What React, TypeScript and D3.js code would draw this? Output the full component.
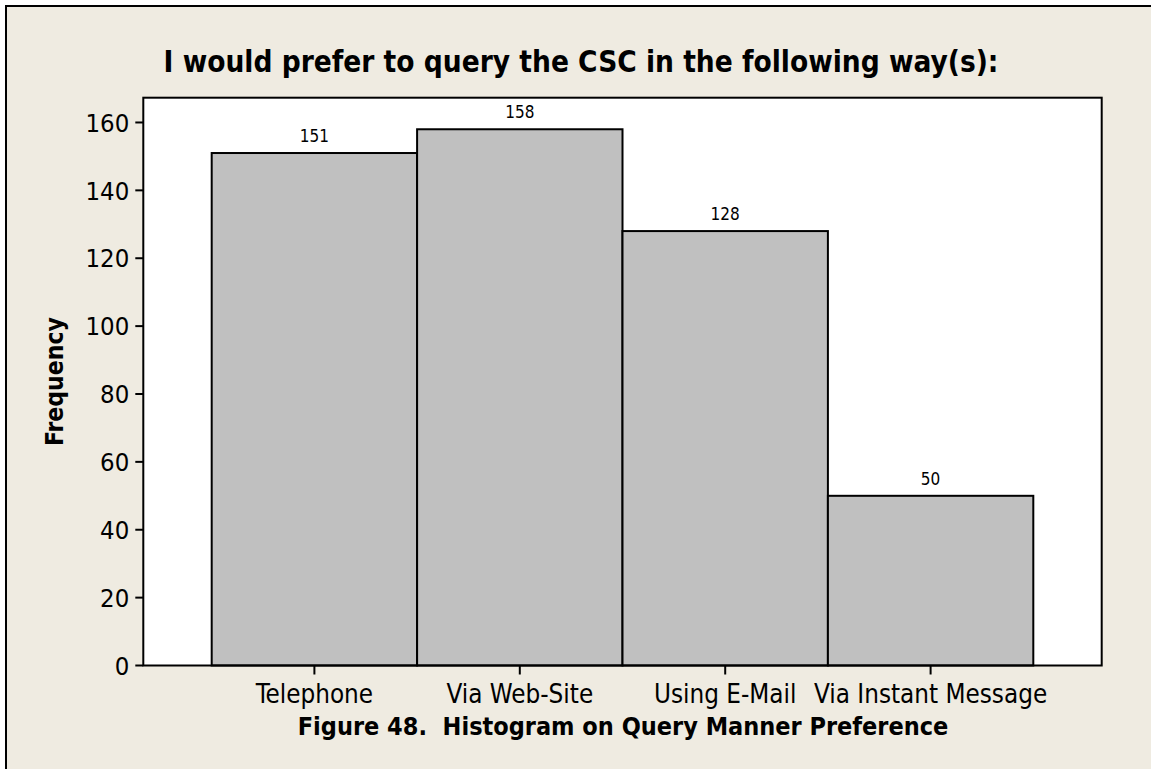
import React from "react";
import * as d3 from "d3";

const categories: string[] = ["Telephone", "Via Web-Site", "Using E-Mail", "Via Instant Message"];
const frequencies: number[] = [151, 158, 128, 50];
const yTicks: number[] = [0, 20, 40, 60, 80, 100, 120, 140, 160];

const titleText = "I would prefer to query the CSC in the following way(s):";
const captionText = "Figure 48.  Histogram on Query Manner Preference";
const yLabel = "Frequency";

const W = 1151;
const H = 769;
const plot = { left: 143.3, right: 1101.7, top: 97.7, bottom: 665.5 };
const FONT = "'DejaVu Sans Condensed', 'DejaVu Sans', sans-serif";
const BG = "#EFEBE1";

export default function App() {
  const x = d3
    .scaleBand<string>()
    .domain(categories)
    .range([plot.left, plot.right])
    .paddingInner(0)
    .paddingOuter(0.333);
  const y = d3.scaleLinear().domain([0, 167.3]).range([plot.bottom, plot.top]);
  const bw = x.bandwidth();

  return (
    <svg
      width={W}
      height={H}
      style={{ position: "absolute", left: 0, top: 0, display: "block" }}
      fontFamily={FONT}
    >
      <rect x={0} y={0} width={W} height={H} fill="#ffffff" />
      <rect x={6} y={6} width={W + 10} height={H + 10} fill={BG} stroke="#000" strokeWidth={2} />

      <text
        x={581}
        y={72}
        textAnchor="middle"
        fontSize={29.5}
        fontWeight="bold"
        fill="#000"
        style={{ fontStretch: "condensed" }}
      >
        {titleText}
      </text>

      {/* plot area */}
      <rect
        x={plot.left}
        y={plot.top}
        width={plot.right - plot.left}
        height={plot.bottom - plot.top}
        fill="#fff"
      />

      {categories.map((c, i) => (
        <rect
          key={c}
          x={x(c)}
          y={y(frequencies[i])}
          width={bw}
          height={y(0) - y(frequencies[i])}
          fill="#C0C0C0"
          stroke="#000"
          strokeWidth={2}
        />
      ))}

      {categories.map((c, i) => (
        <text
          key={"v" + c}
          x={(x(c) as number) + bw / 2}
          y={y(frequencies[i]) - 11}
          textAnchor="middle"
          fontSize={17}
          fill="#000"
          style={{ fontStretch: "condensed" }}
        >
          {frequencies[i]}
        </text>
      ))}

      <rect
        x={plot.left}
        y={plot.top}
        width={plot.right - plot.left}
        height={plot.bottom - plot.top}
        fill="none"
        stroke="#000"
        strokeWidth={2}
      />

      {/* y axis ticks */}
      {yTicks.map((t) => (
        <g key={"yt" + t}>
          <line x1={plot.left - 8} x2={plot.left} y1={y(t)} y2={y(t)} stroke="#000" strokeWidth={2} />
          <text
            x={plot.left - 14}
            y={y(t)}
            dy="0.36em"
            textAnchor="end"
            fontSize={25.5}
            fill="#000"
            style={{ fontStretch: "condensed" }}
          >
            {t}
          </text>
        </g>
      ))}

      {/* x axis ticks */}
      {categories.map((c) => {
        const cx = (x(c) as number) + bw / 2;
        return (
          <g key={"xt" + c}>
            <line x1={cx} x2={cx} y1={plot.bottom} y2={plot.bottom + 9} stroke="#000" strokeWidth={2} />
            <text
              x={cx}
              y={702.7}
              textAnchor="middle"
              fontSize={25.8}
              fill="#000"
              style={{ fontStretch: "condensed" }}
            >
              {c}
            </text>
          </g>
        );
      })}

      <text
        transform={`translate(63.3, ${(plot.top + plot.bottom) / 2}) rotate(-90)`}
        textAnchor="middle"
        fontSize={24.5}
        fontWeight="bold"
        fill="#000"
        style={{ fontStretch: "condensed" }}
      >
        {yLabel}
      </text>

      <text
        x={623}
        y={735}
        textAnchor="middle"
        fontSize={25}
        fontWeight="bold"
        fill="#000"
        style={{ fontStretch: "condensed", whiteSpace: "pre" }}
      >
        {captionText}
      </text>
    </svg>
  );
}
